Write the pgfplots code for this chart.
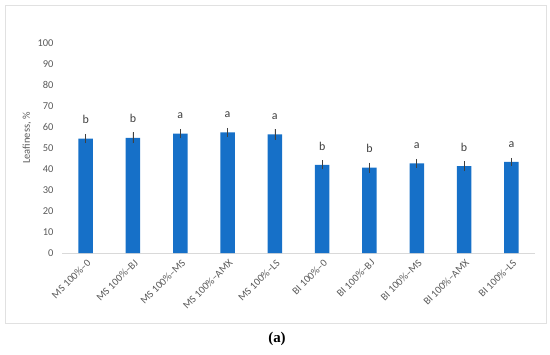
\documentclass[border=0pt]{standalone}
\usepackage{pgfplots}
\pgfplotsset{compat=1.18}
\usepackage{pgfplotstable}
\usepackage{fontspec}
\setmainfont{Carlito}
\newfontfamily\serifbold{Liberation Serif}
\definecolor{barblue}{RGB}{22,112,200}
\definecolor{txtgray}{RGB}{89,89,89}
\definecolor{errgray}{RGB}{64,64,64}
\definecolor{framegray}{RGB}{225,225,225}
\definecolor{axisgray}{RGB}{217,217,217}

\pgfplotstableread{
x y e lab
0 54.5 2.2 b
1 54.8 2.6 b
2 56.9 2.2 a
3 57.4 2.2 a
4 56.5 2.5 a
5 42.0 2.1 b
6 40.6 2.4 b
7 42.7 2.1 a
8 41.4 2.4 b
9 43.4 1.9 a
}\datatable

\begin{document}
\begin{tikzpicture}[x=1bp,y=1bp]
\useasboundingbox (-62,-101) rectangle (488,253);
\draw[framegray, line width=0.8bp] (-56.5,-70.7) rectangle (484,247.5);
\begin{axis}[
  at={(0,0)}, anchor=south west,
  scale only axis, width=473bp, height=210bp,
  xmin=-0.5, xmax=9.5, ymin=0, ymax=100,
  ytick={0,10,...,100},
  xtick=data,
  xticklabels={MS 100\%--0, MS 100\%--BJ, MS 100\%--MS, MS 100\%--AMX, MS 100\%--LS, BI 100\%--0, BI 100\%--BJ, BI 100\%--MS, BI 100\%--AMX, BI 100\%--LS},
  major tick length=0pt,
  axis lines*=left,
  x axis line style={draw=axisgray, line width=0.8bp},
  y axis line style={draw=none},
  tick label style={font=\fontsize{10.5}{12}\selectfont, text=txtgray},
  /pgf/number format/assume math mode=true,
  yticklabel style={xshift=-5bp},
  xticklabel style={rotate=45, anchor=east, xshift=0bp, yshift=-8bp},
  every axis y label/.style={at={(axis description cs:-0.074,0.548)}, rotate=90, anchor=center, font=\fontsize{10.5}{12}\selectfont, text=txtgray},
  ylabel={Leafiness, \%},
  clip=false,
]
\addplot[ybar, bar width=14.5bp, fill=barblue, draw=none,
  error bars/.cd, y dir=both, y explicit, error mark=none,
  error bar style={color=errgray, line width=0.7bp}]
  table[x=x, y=y, y error=e] {\datatable};
\addplot[draw=none, mark=none, nodes near coords, point meta=explicit symbolic,
  every node near coord/.style={anchor=base, yshift=10bp, font=\fontsize{12}{14}\selectfont, text=errgray}]
  table[x=x, y expr=\thisrow{y}+\thisrow{e}, meta=lab] {\datatable};
\end{axis}
\node[font=\serifbold\bfseries\fontsize{15}{17}\selectfont, text=black] at (215,-86) {(a)};
\end{tikzpicture}
\end{document}
